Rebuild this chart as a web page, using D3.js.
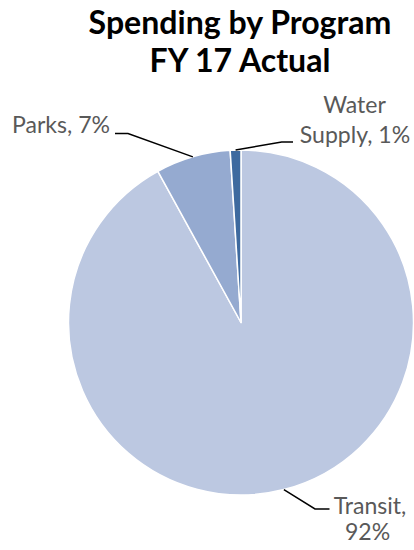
<!DOCTYPE html>
<html>
<head>
<meta charset="utf-8">
<script src="https://cdn.jsdelivr.net/npm/d3@7"></script>
<style>
  html, body { margin: 0; padding: 0; background: #fff; }
  svg { display: block; }
</style>
</head>
<body>
<svg id="chart" width="414" height="550"></svg>
<script>
// ---- data ----
const categories = ["Transit", "Parks", "Water Supply"];
const values = [92, 7, 1];
const percentLabels = ["92%", "7%", "1%"];
const titleLines = ["Spending by Program", "FY 17 Actual"];

// ---- layout / style ----
const W = 414, H = 550;
const cx = 241, cy = 322.5, R = 172.5;
const colors = ["#BCC8E1", "#95AAD0", "#3E6A9F"];
const font = "Lato, 'Open Sans', sans-serif";

const svg = d3.select("#chart");

function fitSize(text, weight, target) {
  const t = svg.append("text").attr("font-family", font).attr("font-weight", weight)
    .attr("font-size", 100).text(text);
  const w = t.node().getComputedTextLength();
  t.remove();
  return 100 * target / w;
}

// title
const titleBase = [33.5, 72];
const titleSize = fitSize(titleLines[0], 700, 303);
titleLines.forEach((t, i) => {
  svg.append("text")
    .attr("x", 240).attr("y", titleBase[i])
    .attr("text-anchor", "middle")
    .attr("font-family", font).attr("font-weight", 700)
    .attr("font-size", titleSize.toFixed(2)).attr("fill", "#000")
    .text(t);
});

// pie
const pie = d3.pie().sort(null).value(d => d)(values);
const arc = d3.arc().innerRadius(0).outerRadius(R);
const g = svg.append("g").attr("transform", `translate(${cx},${cy})`);
g.selectAll("path").data(pie).join("path")
  .attr("d", arc)
  .attr("fill", (d, i) => colors[i])
  .attr("stroke", "#fff").attr("stroke-width", 1.5).attr("stroke-linejoin", "round");

// labels
const labelSize = fitSize(categories[1] + ", " + percentLabels[1], 400, 98);
const labelLayout = [
  { lines: [categories[0] + ",", percentLabels[0]], xs: [370, 367.5], ys: [514, 540], anchor: "middle",
    elbow: [315, 509], end: [329.5, 509] },
  { lines: [categories[1] + ", " + percentLabels[1]], xs: [110], ys: [132.5], anchor: "end",
    elbow: [128, 133.5], end: [115, 133.5] },
  { lines: ["Water", "Supply, " + percentLabels[2]], xs: [354.5, 355], ys: [112.7, 142.5], anchor: "middle",
    elbow: [281.7, 142], end: [293, 142] }
];

pie.forEach((d, i) => {
  const L = labelLayout[i];
  const a = (d.startAngle + d.endAngle) / 2;
  const px = cx + R * Math.sin(a), py = cy - R * Math.cos(a);
  svg.append("polyline")
    .attr("points", [[px, py], L.elbow, L.end].map(p => p.join(",")).join(" "))
    .attr("fill", "none").attr("stroke", "#000").attr("stroke-width", 1.5);
  L.lines.forEach((t, j) => {
    svg.append("text")
      .attr("x", L.xs[j]).attr("y", L.ys[j])
      .attr("text-anchor", L.anchor)
      .attr("font-family", font).attr("font-size", labelSize.toFixed(2))
      .attr("fill", "#595959")
      .text(t);
  });
});
</script>
</body>
</html>
